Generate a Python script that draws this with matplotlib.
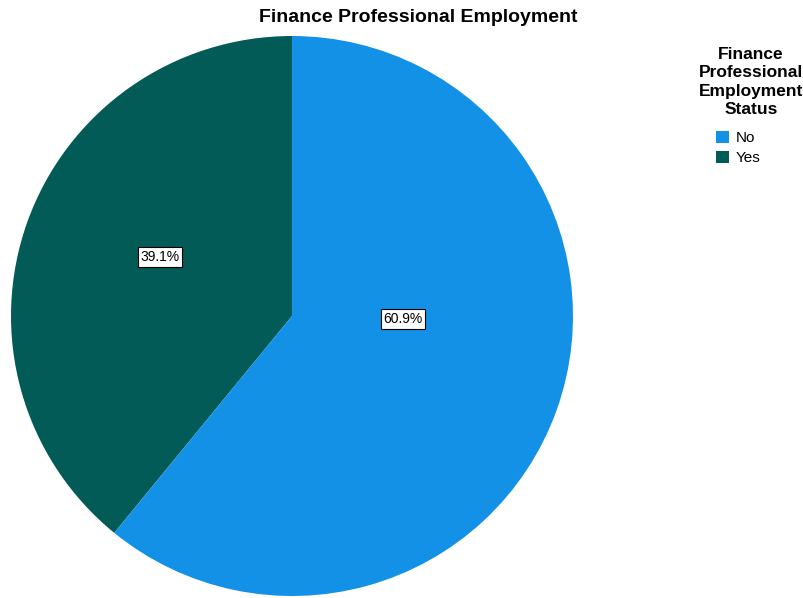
import matplotlib as mpl
mpl.use('Agg')
import matplotlib.pyplot as plt
from matplotlib.patches import Patch
import numpy as np

plt.rcParams['font.family'] = ['Liberation Sans', 'DejaVu Sans']

# employment status shares (percent)
status = ['Yes', 'No']
share = [39.1, 60.9]
colours = {'No': '#1391e6', 'Yes': '#035b57'}
legend_order = ['No', 'Yes']

# label placement inside each wedge: (x, y) in axis units of radius
label_pos = {'Yes': (-0.47, 0.21), 'No': (0.395, -0.011)}

fig = plt.figure(figsize=(8.04, 5.98), dpi=100)
ax = fig.add_axes([11/804, 2/598, 562/804, 560/598])

wedges, _ = ax.pie(share, colors=[colours[s] for s in status],
                   startangle=90, counterclock=True, radius=1.0,
                   wedgeprops=dict(linewidth=0))
ax.set_xlim(-1, 1)
ax.set_ylim(-1, 1)
ax.set_aspect('auto')
ax.axis('off')

for s, v in zip(status, share):
    x, y = label_pos[s]
    ax.text(x, y, '%.1f%%' % v, ha='center', va='center', fontsize=10,
            bbox=dict(boxstyle='square,pad=0.2', fc='white', ec='black', lw=0.8))

fig.text(418/804, 1 - 18/598, 'Finance Professional Employment',
         ha='center', va='center', fontsize=14, fontweight='bold')

fig.text(751/804, 1 - 82/598, 'Finance\nProfessional\nEmployment\nStatus',
         ha='center', va='center', fontsize=12.5, fontweight='bold', linespacing=1.28)

handles = [Patch(facecolor=colours[s], edgecolor='none') for s in legend_order]
fig.legend(handles, legend_order, loc='upper left',
           bbox_to_anchor=(716/804, 1 - 131/598), frameon=False,
           handlelength=0.85, handleheight=0.85, handletextpad=0.45,
           labelspacing=0.35, fontsize=11, borderaxespad=0, borderpad=0)

fig.savefig('out.png', dpi=100)
